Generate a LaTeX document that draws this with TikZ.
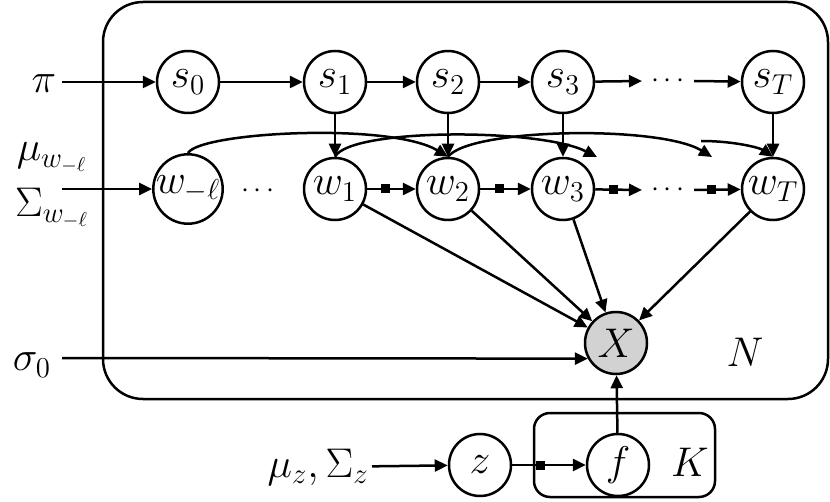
\documentclass[tikz,border=0pt]{standalone}
\usetikzlibrary{arrows.meta}
\begin{document}
\begin{tikzpicture}[x=0.5pt,y=-0.5pt,
  line width=1.25pt,
  font=\fontsize{20}{24}\selectfont,
  var/.style={circle,draw,line width=1.25pt,minimum size=31pt,inner sep=0pt},
  obs/.style={var,fill=gray!35},
  lbl/.style={inner sep=1pt},
  dots/.style={inner sep=0pt,font=\fontsize{14}{14}\selectfont},
  arr/.style={-{Triangle[length=6.5pt,width=6pt]}},
  sq/.style={fill=black,draw=none,minimum size=4.5pt,inner sep=0pt,pos=0.38},
  plate/.style={draw,line width=1.25pt,rounded corners=20pt}]
\useasboundingbox (0,0) rectangle (830,502);
% plates
\draw[plate] (103,2) rectangle (828,399);
\draw[plate,rounded corners=8pt] (534,413) rectangle (715,497);
% s chain
\node[var] (s0) at (188,82) {$s_0$};
\node[var] (s1) at (335,82) {$s_1$};
\node[var] (s2) at (448,82) {$s_2$};
\node[var] (s3) at (563,82) {$s_3$};
\node[dots] (sd) at (668,81) {$\cdots$};
\node[var] (sT) at (773,82) {$s_T$};
% w chain
\node[var] (wl) at (188,189) {$w_{-\ell}$};
\node[dots] (wdl) at (258,191) {$\cdots$};
\node[var] (w1) at (335,189) {$w_1$};
\node[var] (w2) at (448,189) {$w_2$};
\node[var] (w3) at (563,189) {$w_3$};
\node[dots] (wd) at (668,190) {$\cdots$};
\node[var] (wT) at (773,189) {$w_T$};
% X
\node[obs] (X) at (616,343) {$X$};
\node[lbl] (N) at (745,352) {$N$};
% z, f
\node[var] (z) at (480,465) {$z$};
\node[var] (f) at (618,465) {$f$};
\node[lbl] (K) at (690,462) {$K$};
% inputs
\node[lbl] (pi) at (44,84) {$\pi$};
\coordinate (piS) at (62,82);
\node[lbl] (mu) at (52,158) {$\mu_{w_{-\ell}}$};
\node[lbl] (Sig) at (52,208) {$\Sigma_{w_{-\ell}}$};
\coordinate (muS) at (62,189);
\node[lbl] (sig) at (32,365) {$\sigma_0$};
\coordinate (sigS) at (62,358);
\node[lbl,anchor=east] (mz) at (372,467) {$\mu_z,\Sigma_z$};
% edges
\draw[arr] (piS) -- (s0);
\draw[arr] (muS) -- (wl);
\draw[arr] (sigS) -- (X.209);
\draw[arr] (s0) -- (s1);
\draw[arr] (s1) -- (s2);
\draw[arr] (s2) -- (s3);
\draw[arr] (s3) -- ([xshift=-4pt]sd.west);
\draw[arr] ([xshift=4pt]sd.east) -- (sT);
\draw[arr] (s1) -- (w1);
\draw[arr] (s2) -- (w2);
\draw[arr] (s3) -- (w3);
\draw[arr] (sT) -- (wT);
\draw[arr] (w1) -- node[sq]{} (w2);
\draw[arr] (w2) -- node[sq]{} (w3);
\draw[arr] (w3) -- node[sq]{} ([xshift=-4pt]wd.west);
\draw[arr] ([xshift=4pt]wd.east) -- node[sq]{} (wT);
\draw[arr] (mz) -- (z);
\draw[arr] (z) -- node[sq]{} (f);
\draw[arr] (f) -- (X);
\draw[arr] (w1) -- (X);
\draw[arr] (w2) -- (X);
\draw[arr] (w3) -- (X);
\draw[arr] (wT) -- (X);
% curved long-range edges
\coordinate (c1) at (597,157);
\coordinate (c2) at (712,157);
\coordinate (c3) at (701,141);
\draw[arr] (wl.north) .. controls (200,132) and (390,122) .. (w2.north);
\draw[arr] (w1.north) .. controls (350,128) and (540,128) .. (c1);
\draw[arr] (w2.north) .. controls (470,128) and (660,125) .. (c2);
\draw[arr] (c3) .. controls (735,141) and (760,148) .. (wT.north);
\end{tikzpicture}
\end{document}
